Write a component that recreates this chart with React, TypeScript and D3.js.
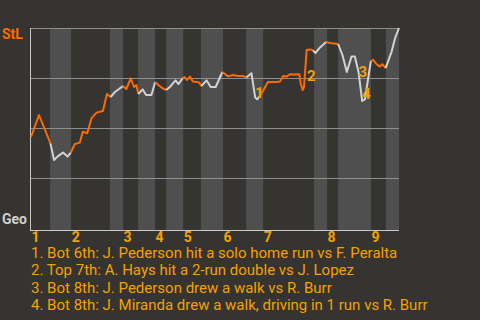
import React from "react";
import * as d3 from "d3";

// game progress (play number) and St. Louis win probability (%)
const playIndex: number[] = [
  0, 2.4, 4.2, 5.8,
  6.9, 7.9, 8.8, 9.6, 10.9, 11.9,
  13.1, 14.6, 15.5, 16.8, 18.1, 19.6, 21.5, 22.7, 23.8,
  25.1, 26.3, 27.5,
  28.5, 29.8, 30.8, 31.5, 32.1,
  33.4, 34.4, 36.0, 37.1,
  38.1, 39.2, 40.4,
  41.5, 43.2, 44.1, 45.3,
  45.9, 46.6, 47.5, 48.4, 49.6, 50.3, 50.9,
  52.5, 53.7, 55.2, 57.2,
  58.9, 60.4, 61.9, 63.4, 64.4,
  65.9, 67.0, 67.6, 68.3,
  69.6, 70.8, 72.0, 73.4, 74.4, 75.4, 76.4, 77.4, 78.8, 80.2, 80.6, 81.2, 81.6, 82.4, 83.4, 84.3,
  85.0, 86.4, 88.2,
  89.4, 90.6, 91.8,
  93.1, 94.4, 95.8, 96.8, 97.9, 99.0, 99.8, 101.6,
  102.3, 103.3, 104.3, 105.0, 106.0,
  107.8, 108.8, 110,
];
const stlWinPct: number[] = [
  45.5, 56.5, 49, 42.3,
  34, 35.7, 36.8, 37.7, 35.7, 37.7,
  42, 42.7, 48.2, 47.4, 54.9, 57.7, 58.5, 67, 65.5,
  68, 69.5, 71,
  69.5, 74.8, 70.5, 71.5, 67,
  69.3, 66.5, 66.5, 73,
  71.5, 70, 69,
  70.5, 73.8, 72, 74.8,
  75.5, 74, 75.7, 73.2, 73, 72.8, 71,
  73.8, 70.5, 70.5, 78,
  75.8, 76.5, 76, 76, 75.3,
  77.4, 65.3, 64.3, 65.8,
  69.3, 73, 73, 73, 73.2, 76, 75.7, 76.9, 76.8, 76.9, 72.4, 69, 70.5, 89, 89.3, 88.8,
  87.5, 90.3, 93,
  92.5, 92.3, 92,
  86.5, 78, 85.7, 85.7, 78, 63.5, 64.3, 83.5,
  84, 81.9, 80.7, 81.9, 79.9,
  88.2, 94.8, 100,
];
// number of points in each half-inning (top 1st, bottom 1st, ...)
const halfInningCounts: number[] = [4, 6, 9, 3, 5, 4, 3, 4, 7, 4, 5, 4, 16, 3, 3, 8, 5, 3];
// start of each half-inning in play units, last value = end of game
const halfInningStarts: number[] = [
  0, 5.7, 12, 23.6, 27.5, 32.0, 37.1, 40.4, 45.5, 50.8, 57.4, 64.3, 69.4, 84.6, 88.5, 91.8, 101.6, 106.1, 110,
];
const inningLabels: string[] = ["1", "2", "3", "4", "5", "6", "7", "8", "9"];
const yTicks: number[] = [25, 50, 75, 100];
const awayTeam = "StL";
const homeTeam = "Geo";
// events: play index of the point right after the event
const eventPlays: number[] = [67.0, 82.4, 97.9, 99.0];
const eventTexts: string[] = [
  "1. Bot 6th: J. Pederson hit a solo home run vs F. Peralta",
  "2. Top 7th: A. Hays hit a 2-run double vs J. Lopez",
  "3. Bot 8th: J. Pederson drew a walk vs R. Burr",
  "4. Bot 8th: J. Miranda drew a walk, driving in 1 run vs R. Burr",
];

const W = 480;
const H = 320;
const BG = "#363430";
const BAND = "#4f4f4f";
const ORANGE = "#ff6a00";
const GRAY_LINE = "#d2d2d2";
const AMBER = "#f5a000";
const FONT = "Roboto, 'DejaVu Sans', sans-serif";

export default function App() {
  React.useEffect(() => {
    document.body.style.margin = "0";
    document.body.style.background = BG;
  }, []);

  const plotLeft = 31;
  const plotRight = 399;
  const plotTop = 28;
  const plotBottom = 228;
  const axisBottom = 230;

  const x = d3.scaleLinear().domain([0, 110]).range([plotLeft, plotRight]);
  const y = d3.scaleLinear().domain([0, 100]).range([plotBottom, plotTop]);
  const line = d3
    .line<[number, number]>()
    .x((d) => x(d[0]))
    .y((d) => y(d[1]));

  const pts: [number, number][] = playIndex.map((p, i) => [p, stlWinPct[i]]);

  // split into half-inning segments, each starting from previous half's last point
  const segments: { pts: [number, number][]; top: boolean }[] = [];
  let start = 0;
  halfInningCounts.forEach((c, h) => {
    const from = Math.max(0, start - 1);
    segments.push({ pts: pts.slice(from, start + c), top: h % 2 === 0 });
    start += c;
  });

  const bands = halfInningStarts.slice(0, -1).map((s, i) => ({
    x0: x(s),
    x1: x(halfInningStarts[i + 1]),
    bottom: i % 2 === 1,
  }));

  const markers = eventPlays.map((ep, k) => {
    const idx = playIndex.findIndex((p) => Math.abs(p - ep) < 1e-6);
    const a = pts[idx - 1];
    const b = pts[idx];
    const mx = (x(a[0]) + x(b[0])) / 2 + 6;
    const my = (y(a[1]) + y(b[1])) / 2 + 7.5;
    return { mx, my, label: String(k + 1) };
  });

  return (
    <div style={{ position: "fixed", left: 0, top: 0, width: W, height: H, background: BG }}>
      <svg width={W} height={H} style={{ display: "block" }}>
        <rect x={0} y={0} width={W} height={H} fill={BG} />
        {bands
          .filter((b) => b.bottom)
          .map((b, i) => (
            <rect key={i} x={b.x0} y={plotTop} width={b.x1 - b.x0} height={axisBottom - plotTop} fill={BAND} />
          ))}
        {yTicks.map((t) => (
          <line
            key={t}
            x1={plotLeft}
            x2={plotRight}
            y1={Math.round(y(t)) + 0.5}
            y2={Math.round(y(t)) + 0.5}
            stroke="#8e8e8e"
            strokeWidth={1}
          />
        ))}
        <line x1={plotLeft - 0.5} x2={plotLeft - 0.5} y1={plotTop} y2={axisBottom} stroke="#c8c8c8" strokeWidth={1} />
        <line x1={plotLeft - 1} x2={plotRight} y1={axisBottom + 0.5} y2={axisBottom + 0.5} stroke="#c8c8c8" strokeWidth={1} />
        {segments.map((s, i) => (
          <path
            key={i}
            d={line(s.pts) || ""}
            fill="none"
            stroke={s.top ? ORANGE : GRAY_LINE}
            strokeWidth={2}
            strokeLinejoin="round"
          />
        ))}
        {markers.map((m) => (
          <text
            key={m.label}
            x={m.mx}
            y={m.my}
            fill={AMBER}
            fontFamily={FONT}
            fontWeight="bold"
            fontSize={15}
            textAnchor="middle"
            dominantBaseline="central"
          >
            {m.label}
          </text>
        ))}
        <text x={2} y={39} fill={ORANGE} fontFamily={FONT} fontWeight="bold" fontSize={14}>
          {awayTeam}
        </text>
        <text x={2} y={224} fill="#d0d0d0" fontFamily={FONT} fontWeight="bold" fontSize={14}>
          {homeTeam}
        </text>
        {inningLabels.map((l, i) => (
          <text
            key={l}
            x={x(halfInningStarts[i * 2]) + 0.5}
            y={242}
            fill={AMBER}
            fontFamily={FONT}
            fontWeight="bold"
            fontSize={14}
          >
            {l}
          </text>
        ))}
        {eventTexts.map((t, i) => (
          <text key={i} x={31} y={257.5 + i * 17.5} fill={AMBER} fontFamily={FONT} fontSize={15}>
            {t}
          </text>
        ))}
      </svg>
    </div>
  );
}
